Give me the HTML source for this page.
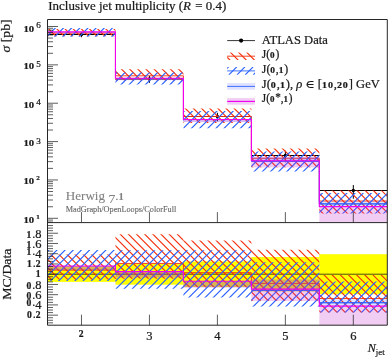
<!DOCTYPE html>
<html lang="en"><head><meta charset="utf-8"><title>Inclusive jet multiplicity (R = 0.4)</title>
<style>html,body{margin:0;padding:0;background:#fff}svg{display:block;will-change:transform}text{font-family:"Liberation Serif","DejaVu Serif",serif;fill:#1a1a1a;stroke:#1a1a1a;stroke-width:.22px}</style></head><body>
<svg width="388" height="358" viewBox="0 0 388 358">
<rect width="388" height="358" fill="#fff"/>
<defs>
<clipPath id="cm"><rect x="47.5" y="19.5" width="339.8" height="203.1"/></clipPath>
<clipPath id="cr"><rect x="47.5" y="222.6" width="339.8" height="102.6"/></clipPath>
<clipPath id="rm"><rect x="47.5" y="28.97" width="67.96" height="7.37"/><rect x="115.46" y="69.3" width="67.96" height="11.27"/><rect x="183.42" y="108.56" width="67.96" height="14.39"/><rect x="251.38" y="148.5" width="67.96" height="18.79"/><rect x="319.34" y="190.55" width="67.96" height="22.84"/></clipPath>
<clipPath id="bm"><rect x="47.5" y="27.95" width="67.96" height="8.85"/><rect x="115.46" y="72.58" width="67.96" height="11.96"/><rect x="183.42" y="111.04" width="67.96" height="17.18"/><rect x="251.38" y="151.48" width="67.96" height="20.08"/><rect x="319.34" y="192.91" width="67.96" height="20.49"/></clipPath>
<clipPath id="rr"><rect x="47.5" y="254.49" width="67.96" height="25.34"/><rect x="115.46" y="234.16" width="67.96" height="44.65"/><rect x="183.42" y="240.41" width="67.96" height="47.1"/><rect x="251.38" y="249.78" width="67.96" height="51.15"/><rect x="319.34" y="274.97" width="67.96" height="37.63"/></clipPath>
<clipPath id="br"><rect x="47.5" y="249.98" width="67.96" height="31.08"/><rect x="115.46" y="250.14" width="67.96" height="38.55"/><rect x="183.42" y="250.14" width="67.96" height="47.31"/><rect x="251.38" y="262.17" width="67.96" height="44.29"/><rect x="319.34" y="281.62" width="67.96" height="30.98"/></clipPath>
</defs>
<path d="M47.5 34.5H115.46M81.48 32.17V37.21" stroke="#000" stroke-width="1" fill="none"/>
<circle cx="81.48" cy="34.5" r="1.7" fill="#000"/>
<path d="M115.46 79H183.42M149.44 75.89V82.82" stroke="#000" stroke-width="1" fill="none"/>
<circle cx="149.44" cy="79" r="1.7" fill="#000"/>
<path d="M183.42 116.5H251.38M217.4 112.78V121.29" stroke="#000" stroke-width="1" fill="none"/>
<circle cx="217.4" cy="116.5" r="1.7" fill="#000"/>
<path d="M251.38 155.5H319.34M285.36 150.69V162.3" stroke="#000" stroke-width="1" fill="none"/>
<circle cx="285.36" cy="155.5" r="1.7" fill="#000"/>
<path d="M319.34 190.5H387.3M353.32 185.01V198.73" stroke="#000" stroke-width="1" fill="none"/>
<circle cx="353.32" cy="190.5" r="1.7" fill="#000"/>
<g clip-path="url(#cm)">
<path clip-path="url(#rm)" d="M-148.23 19.5L54.87 222.6M-140.08 19.5L63.02 222.6M-131.93 19.5L71.17 222.6M-123.77 19.5L79.33 222.6M-115.62 19.5L87.48 222.6M-107.46 19.5L95.64 222.6M-99.31 19.5L103.79 222.6M-91.16 19.5L111.94 222.6M-83 19.5L120.1 222.6M-74.85 19.5L128.25 222.6M-66.69 19.5L136.41 222.6M-58.54 19.5L144.56 222.6M-50.39 19.5L152.71 222.6M-42.23 19.5L160.87 222.6M-34.08 19.5L169.02 222.6M-25.92 19.5L177.18 222.6M-17.77 19.5L185.33 222.6M-9.62 19.5L193.48 222.6M-1.46 19.5L201.64 222.6M6.69 19.5L209.79 222.6M14.85 19.5L217.95 222.6M23 19.5L226.1 222.6M31.15 19.5L234.25 222.6M39.31 19.5L242.41 222.6M47.46 19.5L250.56 222.6M55.62 19.5L258.72 222.6M63.77 19.5L266.87 222.6M71.92 19.5L275.02 222.6M80.08 19.5L283.18 222.6M88.23 19.5L291.33 222.6M96.39 19.5L299.49 222.6M104.54 19.5L307.64 222.6M112.69 19.5L315.79 222.6M120.85 19.5L323.95 222.6M129 19.5L332.1 222.6M137.16 19.5L340.26 222.6M145.31 19.5L348.41 222.6M153.46 19.5L356.56 222.6M161.62 19.5L364.72 222.6M169.77 19.5L372.87 222.6M177.93 19.5L381.03 222.6M186.08 19.5L389.18 222.6M194.23 19.5L397.33 222.6M202.39 19.5L405.49 222.6M210.54 19.5L413.64 222.6M218.7 19.5L421.8 222.6M226.85 19.5L429.95 222.6M235 19.5L438.1 222.6M243.16 19.5L446.26 222.6M251.31 19.5L454.41 222.6M259.47 19.5L462.57 222.6M267.62 19.5L470.72 222.6M275.77 19.5L478.87 222.6M283.93 19.5L487.03 222.6M292.08 19.5L495.18 222.6M300.24 19.5L503.34 222.6M308.39 19.5L511.49 222.6M316.54 19.5L519.64 222.6M324.7 19.5L527.8 222.6M332.85 19.5L535.95 222.6M341.01 19.5L544.11 222.6M349.16 19.5L552.26 222.6M357.31 19.5L560.41 222.6M365.47 19.5L568.57 222.6M373.62 19.5L576.72 222.6M381.78 19.5L584.88 222.6" stroke="#f5300c" stroke-width="1.15" fill="none"/>
<polyline points="47.5,33.12 115.46,33.12 115.46,75.82 183.42,75.82 183.42,116.51 251.38,116.51 251.38,158.31 319.34,158.31 319.34,201.03 387.3,201.03" fill="none" stroke="#f5300c" stroke-width="0.9"/>
<path clip-path="url(#bm)" d="M47.53 19.5L-155.57 222.6M55.69 19.5L-147.41 222.6M63.84 19.5L-139.26 222.6M71.99 19.5L-131.11 222.6M80.15 19.5L-122.95 222.6M88.3 19.5L-114.8 222.6M96.46 19.5L-106.64 222.6M104.61 19.5L-98.49 222.6M112.76 19.5L-90.34 222.6M120.92 19.5L-82.18 222.6M129.07 19.5L-74.03 222.6M137.23 19.5L-65.87 222.6M145.38 19.5L-57.72 222.6M153.53 19.5L-49.57 222.6M161.69 19.5L-41.41 222.6M169.84 19.5L-33.26 222.6M178 19.5L-25.1 222.6M186.15 19.5L-16.95 222.6M194.3 19.5L-8.8 222.6M202.46 19.5L-0.64 222.6M210.61 19.5L7.51 222.6M218.77 19.5L15.67 222.6M226.92 19.5L23.82 222.6M235.07 19.5L31.97 222.6M243.23 19.5L40.13 222.6M251.38 19.5L48.28 222.6M259.54 19.5L56.44 222.6M267.69 19.5L64.59 222.6M275.84 19.5L72.74 222.6M284 19.5L80.9 222.6M292.15 19.5L89.05 222.6M300.31 19.5L97.21 222.6M308.46 19.5L105.36 222.6M316.61 19.5L113.51 222.6M324.77 19.5L121.67 222.6M332.92 19.5L129.82 222.6M341.08 19.5L137.98 222.6M349.23 19.5L146.13 222.6M357.38 19.5L154.28 222.6M365.54 19.5L162.44 222.6M373.69 19.5L170.59 222.6M381.85 19.5L178.75 222.6M390 19.5L186.9 222.6M398.15 19.5L195.05 222.6M406.31 19.5L203.21 222.6M414.46 19.5L211.36 222.6M422.62 19.5L219.52 222.6M430.77 19.5L227.67 222.6M438.92 19.5L235.82 222.6M447.08 19.5L243.98 222.6M455.23 19.5L252.13 222.6M463.39 19.5L260.29 222.6M471.54 19.5L268.44 222.6M479.69 19.5L276.59 222.6M487.85 19.5L284.75 222.6M496 19.5L292.9 222.6M504.16 19.5L301.06 222.6M512.31 19.5L309.21 222.6M520.46 19.5L317.36 222.6M528.62 19.5L325.52 222.6M536.77 19.5L333.67 222.6M544.93 19.5L341.83 222.6M553.08 19.5L349.98 222.6M561.23 19.5L358.13 222.6M569.39 19.5L366.29 222.6M577.54 19.5L374.44 222.6M585.7 19.5L382.6 222.6" stroke="#2a62ff" stroke-width="1.15" fill="none"/>
<polyline points="251.38,161.33 319.34,161.33 319.34,203.86 387.3,203.86" fill="none" stroke="#2a62ff" stroke-width="0.9"/>
<g fill="#4848ff" fill-opacity="0.17"><rect x="47.5" y="31.93" width="67.96" height="1.19"/><rect x="115.46" y="78.19" width="67.96" height="1.93"/><rect x="183.42" y="119.47" width="67.96" height="2.52"/><rect x="251.38" y="156.79" width="67.96" height="5.13"/><rect x="319.34" y="201.52" width="67.96" height="5.08"/></g>
<polyline points="251.38,161.33 319.34,161.33 319.34,203.86 387.3,203.86" fill="none" stroke="#2a62ff" stroke-width="0.9"/>
<g fill="#c430cc" fill-opacity="0.24"><rect x="47.5" y="31.93" width="67.96" height="1.19"/><rect x="115.46" y="78.19" width="67.96" height="1.93"/><rect x="183.42" y="119.47" width="67.96" height="2.52"/><rect x="251.38" y="156.79" width="67.96" height="10.57"/><rect x="319.34" y="206.6" width="67.96" height="16"/></g>
<polyline points="47.5,31.93 115.46,31.93 115.46,78.2 183.42,78.2 183.42,119.47 251.38,119.47 251.38,160.71 319.34,160.71 319.34,206.6 387.3,206.6" fill="none" stroke="#f000f0" stroke-width="1.15"/>
</g>
<g clip-path="url(#cr)">
<g fill="#ffff00"><rect x="47.5" y="266.52" width="67.96" height="15.36"/><rect x="115.46" y="263.7" width="67.96" height="20.99"/><rect x="183.42" y="261.4" width="67.96" height="25.6"/><rect x="251.38" y="257.05" width="67.96" height="34.3"/><rect x="319.34" y="254.23" width="67.96" height="39.94"/></g>
<path d="M47.5 274.2H387.3" stroke="#111" stroke-width="0.75"/>
<path clip-path="url(#rr)" d="M-54.44 222.6L48.16 325.2M-46.28 222.6L56.32 325.2M-38.13 222.6L64.47 325.2M-29.97 222.6L72.63 325.2M-21.82 222.6L80.78 325.2M-13.67 222.6L88.93 325.2M-5.51 222.6L97.09 325.2M2.64 222.6L105.24 325.2M10.8 222.6L113.4 325.2M18.95 222.6L121.55 325.2M27.1 222.6L129.7 325.2M35.26 222.6L137.86 325.2M43.41 222.6L146.01 325.2M51.57 222.6L154.17 325.2M59.72 222.6L162.32 325.2M67.87 222.6L170.47 325.2M76.03 222.6L178.63 325.2M84.18 222.6L186.78 325.2M92.34 222.6L194.94 325.2M100.49 222.6L203.09 325.2M108.64 222.6L211.24 325.2M116.8 222.6L219.4 325.2M124.95 222.6L227.55 325.2M133.11 222.6L235.71 325.2M141.26 222.6L243.86 325.2M149.41 222.6L252.01 325.2M157.57 222.6L260.17 325.2M165.72 222.6L268.32 325.2M173.88 222.6L276.48 325.2M182.03 222.6L284.63 325.2M190.18 222.6L292.78 325.2M198.34 222.6L300.94 325.2M206.49 222.6L309.09 325.2M214.65 222.6L317.25 325.2M222.8 222.6L325.4 325.2M230.95 222.6L333.55 325.2M239.11 222.6L341.71 325.2M247.26 222.6L349.86 325.2M255.42 222.6L358.02 325.2M263.57 222.6L366.17 325.2M271.72 222.6L374.32 325.2M279.88 222.6L382.48 325.2M288.03 222.6L390.63 325.2M296.19 222.6L398.79 325.2M304.34 222.6L406.94 325.2M312.49 222.6L415.09 325.2M320.65 222.6L423.25 325.2M328.8 222.6L431.4 325.2M336.96 222.6L439.56 325.2M345.11 222.6L447.71 325.2M353.26 222.6L455.86 325.2M361.42 222.6L464.02 325.2M369.57 222.6L472.17 325.2M377.73 222.6L480.33 325.2M385.88 222.6L488.48 325.2" stroke="#f5300c" stroke-width="1.15" fill="none"/>
<polyline points="47.5,270.1 115.46,270.1 115.46,263.45 183.42,263.45 183.42,272.66 251.38,272.66 251.38,283.42 319.34,283.42 319.34,298.52 387.3,298.52" fill="none" stroke="#f5300c" stroke-width="0.9"/>
<path clip-path="url(#br)" d="M51.78 222.6L-50.82 325.2M59.94 222.6L-42.66 325.2M68.09 222.6L-34.51 325.2M76.24 222.6L-26.36 325.2M84.4 222.6L-18.2 325.2M92.55 222.6L-10.05 325.2M100.71 222.6L-1.89 325.2M108.86 222.6L6.26 325.2M117.01 222.6L14.41 325.2M125.17 222.6L22.57 325.2M133.32 222.6L30.72 325.2M141.48 222.6L38.88 325.2M149.63 222.6L47.03 325.2M157.78 222.6L55.18 325.2M165.94 222.6L63.34 325.2M174.09 222.6L71.49 325.2M182.25 222.6L79.65 325.2M190.4 222.6L87.8 325.2M198.55 222.6L95.95 325.2M206.71 222.6L104.11 325.2M214.86 222.6L112.26 325.2M223.02 222.6L120.42 325.2M231.17 222.6L128.57 325.2M239.32 222.6L136.72 325.2M247.48 222.6L144.88 325.2M255.63 222.6L153.03 325.2M263.79 222.6L161.19 325.2M271.94 222.6L169.34 325.2M280.09 222.6L177.49 325.2M288.25 222.6L185.65 325.2M296.4 222.6L193.8 325.2M304.56 222.6L201.96 325.2M312.71 222.6L210.11 325.2M320.86 222.6L218.26 325.2M329.02 222.6L226.42 325.2M337.17 222.6L234.57 325.2M345.33 222.6L242.73 325.2M353.48 222.6L250.88 325.2M361.63 222.6L259.03 325.2M369.79 222.6L267.19 325.2M377.94 222.6L275.34 325.2M386.1 222.6L283.5 325.2M394.25 222.6L291.65 325.2M402.4 222.6L299.8 325.2M410.56 222.6L307.96 325.2M418.71 222.6L316.11 325.2M426.87 222.6L324.27 325.2M435.02 222.6L332.42 325.2M443.17 222.6L340.57 325.2M451.33 222.6L348.73 325.2M459.48 222.6L356.88 325.2M467.64 222.6L365.04 325.2M475.79 222.6L373.19 325.2M483.94 222.6L381.34 325.2" stroke="#2a62ff" stroke-width="1.15" fill="none"/>
<polyline points="251.38,290.38 319.34,290.38 319.34,302.72 387.3,302.72" fill="none" stroke="#2a62ff" stroke-width="0.9"/>
<g fill="#4848ff" fill-opacity="0.17"><rect x="47.5" y="266.01" width="67.96" height="4.1"/><rect x="115.46" y="271.64" width="67.96" height="5.89"/><rect x="183.42" y="281.27" width="67.96" height="6.2"/><rect x="251.38" y="279.42" width="67.96" height="12.19"/><rect x="319.34" y="299.29" width="67.96" height="6.86"/></g>
<polyline points="251.38,290.38 319.34,290.38 319.34,302.72 387.3,302.72" fill="none" stroke="#2a62ff" stroke-width="0.9"/>
<g fill="#c430cc" fill-opacity="0.24"><rect x="47.5" y="266.01" width="67.96" height="4.1"/><rect x="115.46" y="271.64" width="67.96" height="5.89"/><rect x="183.42" y="281.27" width="67.96" height="6.2"/><rect x="251.38" y="279.42" width="67.96" height="21.61"/><rect x="319.34" y="306.15" width="67.96" height="19.05"/></g>
<polyline points="47.5,266.01 115.46,266.01 115.46,271.69 183.42,271.69 183.42,281.27 251.38,281.27 251.38,289.05 319.34,289.05 319.34,306.15 387.3,306.15" fill="none" stroke="#f000f0" stroke-width="1.15"/>
</g>
<path d="M47.5 218.3h10.5M47.5 206.75h5.5M47.5 200h5.5M47.5 195.2h5.5M47.5 191.49h5.5M47.5 188.45h5.5M47.5 185.88h5.5M47.5 183.66h5.5M47.5 181.7h5.5M47.5 179.94h10.5M47.5 168.39h5.5M47.5 161.64h5.5M47.5 156.84h5.5M47.5 153.13h5.5M47.5 150.09h5.5M47.5 147.52h5.5M47.5 145.3h5.5M47.5 143.34h5.5M47.5 141.58h10.5M47.5 130.03h5.5M47.5 123.28h5.5M47.5 118.48h5.5M47.5 114.77h5.5M47.5 111.73h5.5M47.5 109.16h5.5M47.5 106.94h5.5M47.5 104.98h5.5M47.5 103.22h10.5M47.5 91.67h5.5M47.5 84.92h5.5M47.5 80.12h5.5M47.5 76.41h5.5M47.5 73.37h5.5M47.5 70.8h5.5M47.5 68.58h5.5M47.5 66.62h5.5M47.5 64.86h10.5M47.5 53.31h5.5M47.5 46.56h5.5M47.5 41.76h5.5M47.5 38.05h5.5M47.5 35.01h5.5M47.5 32.44h5.5M47.5 30.22h5.5M47.5 28.26h5.5M47.5 26.5h10.5M47.5 222.02h5.5M47.5 220.06h5.5M47.5 322.84h5.5M47.5 320.28h5.5M47.5 317.72h5.5M47.5 315.16h10.5M47.5 312.6h5.5M47.5 310.04h5.5M47.5 307.48h5.5M47.5 304.92h10.5M47.5 302.36h5.5M47.5 299.8h5.5M47.5 297.24h5.5M47.5 294.68h10.5M47.5 292.12h5.5M47.5 289.56h5.5M47.5 287h5.5M47.5 284.44h10.5M47.5 281.88h5.5M47.5 279.32h5.5M47.5 276.76h5.5M47.5 274.2h10.5M47.5 271.64h5.5M47.5 269.08h5.5M47.5 266.52h5.5M47.5 263.96h10.5M47.5 261.4h5.5M47.5 258.84h5.5M47.5 256.28h5.5M47.5 253.72h10.5M47.5 251.16h5.5M47.5 248.6h5.5M47.5 246.04h5.5M47.5 243.48h10.5M47.5 240.92h5.5M47.5 238.36h5.5M47.5 235.8h5.5M47.5 233.24h10.5M47.5 230.68h5.5M47.5 228.12h5.5M47.5 225.56h5.5M81.48 222.6v-10.5M81.48 325.2v-10.5M149.44 222.6v-10.5M149.44 325.2v-10.5M217.4 222.6v-10.5M217.4 325.2v-10.5M285.36 222.6v-10.5M285.36 325.2v-10.5M353.32 222.6v-10.5M353.32 325.2v-10.5" stroke="#1a1a1a" stroke-width="0.7" fill="none"/>
<path d="M47.5 19.5H387.3V325.2H47.5ZM47.5 222.6H387.3" stroke="#262626" stroke-width="1" fill="none"/>
<path d="M227.2 40.6H255" stroke="#000" stroke-width="0.8"/>
<circle cx="241.1" cy="40.6" r="2.1" fill="#000"/>
<clipPath id="l1"><rect x="227.2" y="52.4" width="27.8" height="7.6"/></clipPath>
<path clip-path="url(#l1)" d="M42.69 52.2L50.69 60.2M50.85 52.2L58.85 60.2M59 52.2L67 60.2M67.15 52.2L75.15 60.2M75.31 52.2L83.31 60.2M83.46 52.2L91.46 60.2M91.62 52.2L99.62 60.2M99.77 52.2L107.77 60.2M107.92 52.2L115.92 60.2M116.08 52.2L124.08 60.2M124.23 52.2L132.23 60.2M132.39 52.2L140.39 60.2M140.54 52.2L148.54 60.2M148.69 52.2L156.69 60.2M156.85 52.2L164.85 60.2M165 52.2L173 60.2M173.16 52.2L181.16 60.2M181.31 52.2L189.31 60.2M189.46 52.2L197.46 60.2M197.62 52.2L205.62 60.2M205.77 52.2L213.77 60.2M213.93 52.2L221.93 60.2M222.08 52.2L230.08 60.2M230.23 52.2L238.23 60.2M238.39 52.2L246.39 60.2M246.54 52.2L254.54 60.2M254.7 52.2L262.7 60.2M262.85 52.2L270.85 60.2M271 52.2L279 60.2M279.16 52.2L287.16 60.2M287.31 52.2L295.31 60.2M295.47 52.2L303.47 60.2M303.62 52.2L311.62 60.2M311.77 52.2L319.77 60.2M319.93 52.2L327.93 60.2M328.08 52.2L336.08 60.2M336.24 52.2L344.24 60.2M344.39 52.2L352.39 60.2M352.54 52.2L360.54 60.2M360.7 52.2L368.7 60.2M368.85 52.2L376.85 60.2M377.01 52.2L385.01 60.2M385.16 52.2L393.16 60.2" stroke="#f5300c" stroke-width="1.15" fill="none"/>
<path d="M227.2 56.2H255" stroke="#f5300c" stroke-width="0.9"/>
<clipPath id="l2"><rect x="227.2" y="67.1" width="27.8" height="7.6"/></clipPath>
<path clip-path="url(#l2)" d="M49.26 66.9L41.26 74.9M57.41 66.9L49.41 74.9M65.56 66.9L57.56 74.9M73.72 66.9L65.72 74.9M81.87 66.9L73.87 74.9M90.03 66.9L82.03 74.9M98.18 66.9L90.18 74.9M106.33 66.9L98.33 74.9M114.49 66.9L106.49 74.9M122.64 66.9L114.64 74.9M130.8 66.9L122.8 74.9M138.95 66.9L130.95 74.9M147.1 66.9L139.1 74.9M155.26 66.9L147.26 74.9M163.41 66.9L155.41 74.9M171.57 66.9L163.57 74.9M179.72 66.9L171.72 74.9M187.87 66.9L179.87 74.9M196.03 66.9L188.03 74.9M204.18 66.9L196.18 74.9M212.34 66.9L204.34 74.9M220.49 66.9L212.49 74.9M228.64 66.9L220.64 74.9M236.8 66.9L228.8 74.9M244.95 66.9L236.95 74.9M253.11 66.9L245.11 74.9M261.26 66.9L253.26 74.9M269.41 66.9L261.41 74.9M277.57 66.9L269.57 74.9M285.72 66.9L277.72 74.9M293.88 66.9L285.88 74.9M302.03 66.9L294.03 74.9M310.18 66.9L302.18 74.9M318.34 66.9L310.34 74.9M326.49 66.9L318.49 74.9M334.65 66.9L326.65 74.9M342.8 66.9L334.8 74.9M350.95 66.9L342.95 74.9M359.11 66.9L351.11 74.9M367.26 66.9L359.26 74.9M375.42 66.9L367.42 74.9M383.57 66.9L375.57 74.9M391.72 66.9L383.72 74.9" stroke="#2a62ff" stroke-width="1.15" fill="none"/>
<path d="M227.2 70.9H255" stroke="#2a62ff" stroke-width="0.9"/>
<rect x="227.2" y="83.1" width="27.8" height="6.6" fill="#4848ff" fill-opacity="0.17"/>
<path d="M227.2 86.4H255" stroke="#2a62ff" stroke-width="0.9"/>
<rect x="227.2" y="98.1" width="27.8" height="6.6" fill="#c430cc" fill-opacity="0.24"/>
<path d="M227.2 101.4H255" stroke="#f000f0" stroke-width="1.15"/>
<text x="261.8" y="43.8" font-size="11.5" textLength="66" lengthAdjust="spacingAndGlyphs">ATLAS Data</text>
<text x="261.8" y="58.4" font-size="11.5" textLength="17.5" lengthAdjust="spacingAndGlyphs">J(<tspan font-size="9.2" font-weight="bold" letter-spacing="0.81">0</tspan>)</text>
<text x="261.8" y="73" font-size="11.5" textLength="26.5" lengthAdjust="spacingAndGlyphs">J(<tspan font-size="9.2" font-weight="bold" letter-spacing="0.81">0</tspan><tspan>,</tspan><tspan font-size="9.2" font-weight="bold" letter-spacing="0.81">1</tspan>)</text>
<text x="261.8" y="87.6" font-size="11.5" textLength="118" lengthAdjust="spacingAndGlyphs">J(<tspan font-size="9.2" font-weight="bold" letter-spacing="0.81">0</tspan><tspan>,</tspan><tspan font-size="9.2" font-weight="bold" letter-spacing="0.81">1</tspan>), <tspan font-style="italic">ρ</tspan> ∈  [<tspan font-size="9.2" font-weight="bold" letter-spacing="0.81">1</tspan><tspan font-size="9.2" font-weight="bold" letter-spacing="0.81">0</tspan><tspan>,</tspan><tspan font-size="9.2" font-weight="bold" letter-spacing="0.81">2</tspan><tspan font-size="9.2" font-weight="bold" letter-spacing="0.81">0</tspan>] GeV</text>
<text x="261.8" y="102.2" font-size="11.5" textLength="30.7" lengthAdjust="spacingAndGlyphs">J(<tspan font-size="9.2" font-weight="bold" letter-spacing="0.81">0</tspan><tspan dy="-1">*</tspan><tspan dy="1">,</tspan><tspan font-size="9.2" font-weight="bold" letter-spacing="0.81">1</tspan>)</text>
<text x="48.3" y="9.5" font-size="12" textLength="178" lengthAdjust="spacingAndGlyphs">Inclusive jet multiplicity (<tspan font-style="italic">R</tspan> = 0.4)</text>
<text x="65.7" y="200.3" font-size="12.6" textLength="59" lengthAdjust="spacingAndGlyphs" style="fill:#808080;stroke:#808080;stroke-width:.08px">Herwig <tspan dy="2.71" font-size="13.1">7</tspan><tspan dy="-2.71">.</tspan><tspan font-size="10.08" font-weight="bold" letter-spacing="0.88">1</tspan></text>
<text x="65.7" y="212" font-size="8.8" textLength="110.6" lengthAdjust="spacingAndGlyphs" style="fill:#666;stroke:#666;stroke-width:.12px">MadGraph/OpenLoops/ColorFull</text>
<text transform="translate(10.4,52.4) rotate(-90)" font-size="12" textLength="33" lengthAdjust="spacingAndGlyphs"><tspan font-style="italic">σ</tspan> [pb]</text>
<text transform="translate(10.6,299.8) rotate(-90)" font-size="12" textLength="51.2" lengthAdjust="spacingAndGlyphs">MC/Data</text>
<text x="23.5" y="222.8" font-size="9.2" font-weight="bold" textLength="10.7" lengthAdjust="spacingAndGlyphs">10</text>
<text x="36.2" y="218.6" font-size="8.8"><tspan font-size="7.04" font-weight="bold" letter-spacing="0.62">1</tspan></text>
<text x="23.5" y="184.44" font-size="9.2" font-weight="bold" textLength="10.7" lengthAdjust="spacingAndGlyphs">10</text>
<text x="36.2" y="180.24" font-size="8.8"><tspan font-size="7.04" font-weight="bold" letter-spacing="0.62">2</tspan></text>
<text x="23.5" y="146.08" font-size="9.2" font-weight="bold" textLength="10.7" lengthAdjust="spacingAndGlyphs">10</text>
<text x="36.2" y="141.88" font-size="8.8"><tspan dy="1.89" font-size="9.15">3</tspan></text>
<text x="23.5" y="107.72" font-size="9.2" font-weight="bold" textLength="10.7" lengthAdjust="spacingAndGlyphs">10</text>
<text x="36.2" y="103.52" font-size="8.8"><tspan dy="1.89" font-size="9.15">4</tspan></text>
<text x="23.5" y="69.36" font-size="9.2" font-weight="bold" textLength="10.7" lengthAdjust="spacingAndGlyphs">10</text>
<text x="36.2" y="65.16" font-size="8.8"><tspan dy="1.89" font-size="9.15">5</tspan></text>
<text x="23.5" y="31.9" font-size="9.2" font-weight="bold" textLength="10.7" lengthAdjust="spacingAndGlyphs">10</text>
<text x="36.2" y="27.7" font-size="8.8"><tspan font-size="9.15">6</tspan></text>
<text x="41.4" y="317.96" text-anchor="end" font-size="12"><tspan font-size="9.6" font-weight="bold" letter-spacing="0.84">0</tspan><tspan>.</tspan><tspan font-size="9.6" font-weight="bold" letter-spacing="0.84">2</tspan></text>
<text x="41.4" y="306.42" text-anchor="end" font-size="12"><tspan font-size="9.6" font-weight="bold" letter-spacing="0.84">0</tspan><tspan>.</tspan><tspan dy="2.58" font-size="12.48">4</tspan></text>
<text x="41.4" y="298.98" text-anchor="end" font-size="12"><tspan font-size="9.6" font-weight="bold" letter-spacing="0.84">0</tspan><tspan>.</tspan><tspan font-size="12.48">6</tspan></text>
<text x="41.4" y="288.74" text-anchor="end" font-size="12"><tspan font-size="9.6" font-weight="bold" letter-spacing="0.84">0</tspan><tspan>.</tspan><tspan font-size="12.48">8</tspan></text>
<text x="41.4" y="277" text-anchor="end" font-size="12"><tspan font-size="9.6" font-weight="bold" letter-spacing="0.84">1</tspan></text>
<text x="41.4" y="266.76" text-anchor="end" font-size="12"><tspan font-size="9.6" font-weight="bold" letter-spacing="0.84">1</tspan><tspan>.</tspan><tspan font-size="9.6" font-weight="bold" letter-spacing="0.84">2</tspan></text>
<text x="41.4" y="255.22" text-anchor="end" font-size="12"><tspan font-size="9.6" font-weight="bold" letter-spacing="0.84">1</tspan><tspan>.</tspan><tspan dy="2.58" font-size="12.48">4</tspan></text>
<text x="41.4" y="247.78" text-anchor="end" font-size="12"><tspan font-size="9.6" font-weight="bold" letter-spacing="0.84">1</tspan><tspan>.</tspan><tspan font-size="12.48">6</tspan></text>
<text x="41.4" y="237.54" text-anchor="end" font-size="12"><tspan font-size="9.6" font-weight="bold" letter-spacing="0.84">1</tspan><tspan>.</tspan><tspan font-size="12.48">8</tspan></text>
<text x="81.48" y="337.2" text-anchor="middle" font-size="12"><tspan font-size="9.6" font-weight="bold" letter-spacing="0.84">2</tspan></text>
<text x="149.44" y="337.2" text-anchor="middle" font-size="12"><tspan dy="2.58" font-size="12.48">3</tspan></text>
<text x="217.4" y="337.2" text-anchor="middle" font-size="12"><tspan dy="2.58" font-size="12.48">4</tspan></text>
<text x="285.36" y="337.2" text-anchor="middle" font-size="12"><tspan dy="2.58" font-size="12.48">5</tspan></text>
<text x="353.32" y="339.5" text-anchor="middle" font-size="12"><tspan font-size="12.48">6</tspan></text>
<text x="367.8" y="352.3" font-size="12"><tspan font-style="italic">N</tspan><tspan dy="2.4" font-size="8.8">jet</tspan></text>
</svg></body></html>
